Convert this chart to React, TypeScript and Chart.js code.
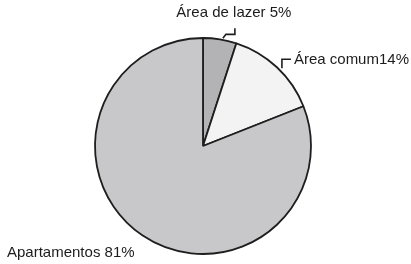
import React, { useEffect, useRef } from "react";
import { Chart, registerables } from "chart.js";

Chart.register(...registerables);

const categories = ["Área de lazer", "Área comum", "Apartamentos"];
const values = [5, 14, 81];
const labelTexts = ["Área de lazer 5%", "Área comum14%", "Apartamentos 81%"];
const colors = ["#b3b3b5", "#f3f3f3", "#c8c8ca"];

const FONT = '15px "Liberation Sans", Arial, sans-serif';

const labelPlugin = {
  id: "pieLabels",
  afterDraw(chart: any) {
    const ctx = chart.ctx;
    const meta = chart.getDatasetMeta(0);
    ctx.save();
    ctx.font = FONT;
    ctx.fillStyle = "#1c1c1c";
    ctx.strokeStyle = "#1e1e1e";
    ctx.lineWidth = 1.6;
    meta.data.forEach((arc: any, i: number) => {
      const { x, y, startAngle, endAngle, outerRadius } = arc.getProps(
        ["x", "y", "startAngle", "endAngle", "outerRadius"],
        true
      );
      const mid = (startAngle + endAngle) / 2;
      const ex = x + Math.cos(mid) * outerRadius;
      const ey = y + Math.sin(mid) * outerRadius;
      ctx.textBaseline = "middle";
      if (i === 0) {
        ctx.beginPath();
        ctx.moveTo(ex + 3, ey - 1);
        ctx.lineTo(ex + 6, ey - 5);
        ctx.lineTo(ex + 15, ey - 5);
        ctx.lineTo(ex + 15, ey - 11);
        ctx.stroke();
        ctx.textAlign = "center";
        ctx.fillText(labelTexts[i], ex + 14, ey - 26);
      } else if (i === 1) {
        ctx.beginPath();
        ctx.moveTo(ex + 5, ey + 1);
        ctx.lineTo(ex + 5, ey - 8);
        ctx.lineTo(ex + 14, ey - 8);
        ctx.stroke();
        ctx.textAlign = "left";
        ctx.fillText(labelTexts[i], ex + 17, ey - 7);
      } else {
        ctx.textAlign = "left";
        ctx.fillText(labelTexts[i], 7, 253);
      }
    });
    ctx.restore();
  },
};

export default function App() {
  const ref = useRef<HTMLCanvasElement | null>(null);
  useEffect(() => {
    document.body.style.margin = "0";
    const canvas = ref.current;
    if (!canvas) return;
    const chart = new Chart(canvas, {
      type: "pie",
      data: {
        labels: categories,
        datasets: [
          {
            data: values,
            backgroundColor: colors,
            borderColor: "#1e1e1e",
            borderWidth: 1.8,
          },
        ],
      },
      options: {
        responsive: false,
        animation: false,
        radius: 108,
        layout: { padding: { left: 0, right: 5, top: 28, bottom: 0 } },
        plugins: {
          legend: { display: false },
          tooltip: { enabled: false },
        },
      } as any,
      plugins: [labelPlugin],
    });
    return () => chart.destroy();
  }, []);
  return (
    <div style={{ width: 411, height: 264, background: "#fff" }}>
      <canvas ref={ref} width={411} height={264} />
    </div>
  );
}
